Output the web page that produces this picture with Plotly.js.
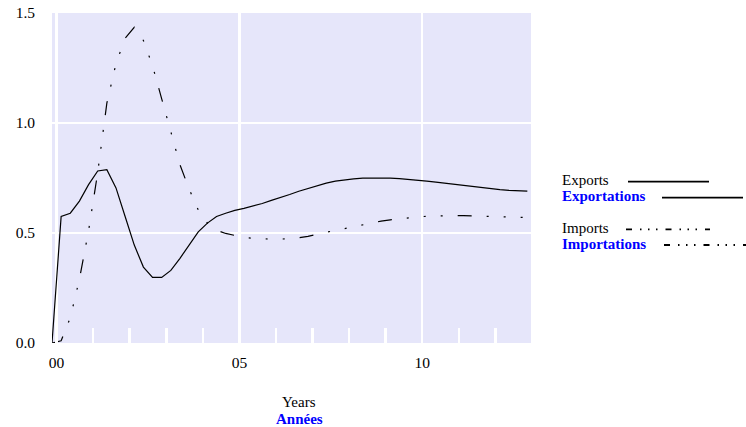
<!DOCTYPE html>
<html>
<head>
<meta charset="utf-8">
<script src="https://cdn.plot.ly/plotly-3.0.1.min.js"></script>
<style>html,body{margin:0;padding:0;background:#fff;}#chart{width:746px;height:427px;}</style>
</head>
<body>
<div id="chart"></div>
<script>
// Quarterly points (years since start)
const years = [-0.125,0.125,0.375,0.625,0.875,1.125,1.375,1.625,1.875,2.125,2.375,2.625,2.875,3.125,3.375,3.625,3.875,4.125,4.375,4.625,4.875,5.125,5.375,5.625,5.875,6.125,6.375,6.625,6.875,7.125,7.375,7.625,7.875,8.125,8.375,8.625,8.875,9.125,9.375,9.625,9.875,10.125,10.375,10.625,10.875,11.125,11.375,11.625,11.875,12.125,12.375,12.625,12.875];
const exportsVals = [0,0.575,0.59,0.645,0.72,0.782,0.788,0.705,0.575,0.445,0.345,0.298,0.298,0.33,0.385,0.445,0.505,0.545,0.575,0.59,0.603,0.612,0.622,0.634,0.648,0.66,0.675,0.69,0.703,0.715,0.727,0.736,0.742,0.746,0.749,0.75,0.75,0.749,0.747,0.744,0.74,0.736,0.731,0.726,0.721,0.716,0.711,0.705,0.70,0.697,0.694,0.692,0.69];
const importsVals = [0,0.01,0.115,0.29,0.51,0.775,1.09,1.27,1.385,1.435,1.375,1.26,1.11,0.96,0.81,0.70,0.605,0.545,0.513,0.498,0.488,0.48,0.476,0.473,0.472,0.472,0.474,0.478,0.485,0.495,0.504,0.512,0.52,0.529,0.538,0.547,0.554,0.56,0.565,0.569,0.573,0.576,0.578,0.579,0.579,0.579,0.578,0.577,0.575,0.574,0.573,0.571,0.57];
const xTickVals = [0,5,10];
const xTickText = ["00","05","10"];
const yTickVals = [0,0.5,1.0,1.5];
const yTickText = ["0.0","0.5","1.0","1.5"];
const seriesEn = ["Exports","Imports"];
const seriesFr = ["Exportations","Importations"];
const axisTitleEn = "Years";
const axisTitleFr = "Années";

const FONT = "'Liberation Serif', 'Times New Roman', serif";
const BLUE = "#0000ff";
const importDash = "14px,15px,2px,15px,2px,15px,2px,15px";
const legendDash = "6px,8px,1.5px,6.5px,1.5px,6.5px,1.5px,8px";

const L = 52, R = 215, T = 13, B = 84;
const W = 746 - L - R, H = 427 - T - B;
const px = v => (v - L) / W;
const py = v => (427 - B - v) / H;

const traces = [
  {x: years, y: exportsVals, mode: 'lines', line: {color: '#000', width: 1.2}, showlegend: false, hoverinfo: 'skip'},
  {x: years, y: importsVals, mode: 'lines', line: {color: '#000', width: 1.2, dash: importDash}, showlegend: false, hoverinfo: 'skip'}
];

const annotations = [
  {text: axisTitleEn, x: px(299), y: py(402.5), font: {color: '#000', size: 15, family: FONT}},
  {text: '<b>' + axisTitleFr + '</b>', x: px(299), y: py(418.5), font: {color: BLUE, size: 15, family: FONT}},
  {text: seriesEn[0], x: px(561), y: py(180), xanchor: 'left', font: {color: '#000', size: 15, family: FONT}},
  {text: '<b>' + seriesFr[0] + '</b>', x: px(561), y: py(196), xanchor: 'left', font: {color: BLUE, size: 15, family: FONT}},
  {text: seriesEn[1], x: px(561), y: py(228), xanchor: 'left', font: {color: '#000', size: 15, family: FONT}},
  {text: '<b>' + seriesFr[1] + '</b>', x: px(561), y: py(244), xanchor: 'left', font: {color: BLUE, size: 15, family: FONT}}
].map(a => Object.assign({xref: 'paper', yref: 'paper', showarrow: false, yanchor: 'middle', xanchor: 'center', borderpad: 0}, a));

const shapes = [
  {x0: px(628), x1: px(709), y0: py(181.7), y1: py(181.7), line: {color: '#000', width: 1.8}},
  {x0: px(662), x1: px(743), y0: py(197.7), y1: py(197.7), line: {color: '#000', width: 1.8}},
  {x0: px(626), x1: px(710), y0: py(229.3), y1: py(229.3), line: {color: '#000', width: 1.8, dash: legendDash}},
  {x0: px(664), x1: px(746), y0: py(245), y1: py(245), line: {color: '#000', width: 1.8, dash: legendDash}}
].map(s => Object.assign({type: 'line', xref: 'paper', yref: 'paper'}, s));

const layout = {
  width: 746, height: 427,
  margin: {l: L, r: R, t: T, b: B, pad: 0},
  paper_bgcolor: '#ffffff',
  plot_bgcolor: '#e6e6fa',
  font: {family: FONT, size: 15.5, color: '#000'},
  showlegend: false,
  xaxis: {
    range: [-0.125, 12.975], tickvals: xTickVals, ticktext: xTickText,
    showgrid: true, gridcolor: '#ffffff', gridwidth: 2.5, zeroline: false, showline: false,
    ticks: '', ticklabelstandoff: 8,
    tickfont: {family: FONT, size: 15.5, color: '#000'},
    minor: {dtick: 1, tick0: 0, ticks: 'inside', ticklen: 15, tickwidth: 2.5, tickcolor: '#ffffff', showgrid: false},
    fixedrange: true
  },
  yaxis: {
    range: [0, 1.5], tickvals: yTickVals, ticktext: yTickText,
    showgrid: true, gridcolor: '#ffffff', gridwidth: 2.5, zeroline: false, showline: false,
    ticks: '', ticklabelstandoff: 16, fixedrange: true,
    tickfont: {family: FONT, size: 15.5, color: '#000'}
  },
  annotations: annotations,
  shapes: shapes
};

Plotly.newPlot('chart', traces, layout, {staticPlot: true, displayModeBar: false});
</script>
</body>
</html>
